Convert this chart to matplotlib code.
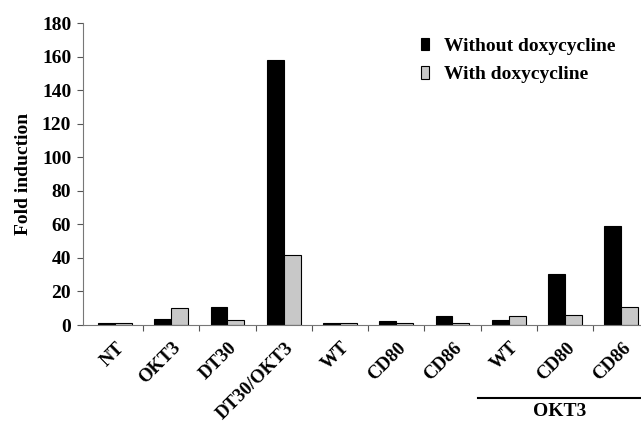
import numpy as np
import matplotlib
matplotlib.use('Agg')
import matplotlib.pyplot as plt
import matplotlib.transforms as mtransforms

categories = ['NT', 'OKT3', 'DT30', 'DT30/OKT3', 'WT', 'CD80', 'CD86', 'WT', 'CD80', 'CD86']
without_doxy = [1, 3.5, 11, 158, 1, 2.5, 5.5, 3, 30.5, 59]
with_doxy = [1, 10, 3, 42, 1, 1, 1, 5.5, 6, 10.5]
series_names = ['Without doxycycline', 'With doxycycline']
yticks = [0, 20, 40, 60, 80, 100, 120, 140, 160, 180]

plt.rcParams['font.family'] = ['Liberation Serif', 'DejaVu Serif']
plt.rcParams['font.weight'] = 'bold'

fig = plt.figure(figsize=(6.41, 4.21), dpi=100)
ax = fig.add_axes([83/641, 96/421, 558/641, 302/421])

x = np.arange(len(categories))
w = 0.3
b1 = ax.bar(x - w/2, without_doxy, w, color='black', edgecolor='black', linewidth=0.8)
b2 = ax.bar(x + w/2, with_doxy, w, color='#c8c8c8', edgecolor='black', linewidth=0.8)

ax.set_xlim(-0.567, 9.353)
ax.set_ylim(0, 180)
ax.set_yticks(yticks)
ax.set_yticklabels([str(t) for t in yticks], fontsize=14, fontweight='bold')
ax.set_xticks(np.arange(0.5, 9, 1))
ax.set_xticklabels([])
ax.tick_params(axis='x', which='major', length=4.5, color='#555555', direction='out')
ax.tick_params(axis='y', length=4.5, color='#555555', direction='out', pad=4)

# category labels, rotated, top-right corner just below/right of the centre
base = mtransforms.blended_transform_factory(ax.transData, ax.transAxes)
off = mtransforms.ScaledTranslation(1/100, -14/100, fig.dpi_scale_trans)
for xi, name in zip(x, categories):
    ax.text(xi, 0, name, transform=base + off, rotation=45, rotation_mode='anchor',
            ha='right', va='top', fontsize=13.5, fontweight='bold', clip_on=False)

for s in ['top', 'right']:
    ax.spines[s].set_visible(False)
for s in ['left', 'bottom']:
    ax.spines[s].set_color('#777777')
    ax.spines[s].set_linewidth(0.8)

ax.set_ylabel('Fold induction', fontsize=14, fontweight='bold', labelpad=7)

ax.legend([b1, b2], series_names, loc='upper left', bbox_to_anchor=(403/641, 1 - 20/421),
          bbox_transform=fig.transFigure, frameon=False,
          handlelength=0.45, handleheight=0.6, handletextpad=0.75, labelspacing=0.6,
          prop={'weight': 'bold', 'size': 14})

# OKT3 group bracket
fig.add_artist(plt.Line2D([478/641, 641/641], [1 - 398/421, 1 - 398/421],
                          transform=fig.transFigure, color='black', linewidth=1.5))
fig.text(560/641, 1 - 411/421, 'OKT3', ha='center', va='center', fontsize=14, fontweight='bold')

fig.savefig('out.png', dpi=100)
